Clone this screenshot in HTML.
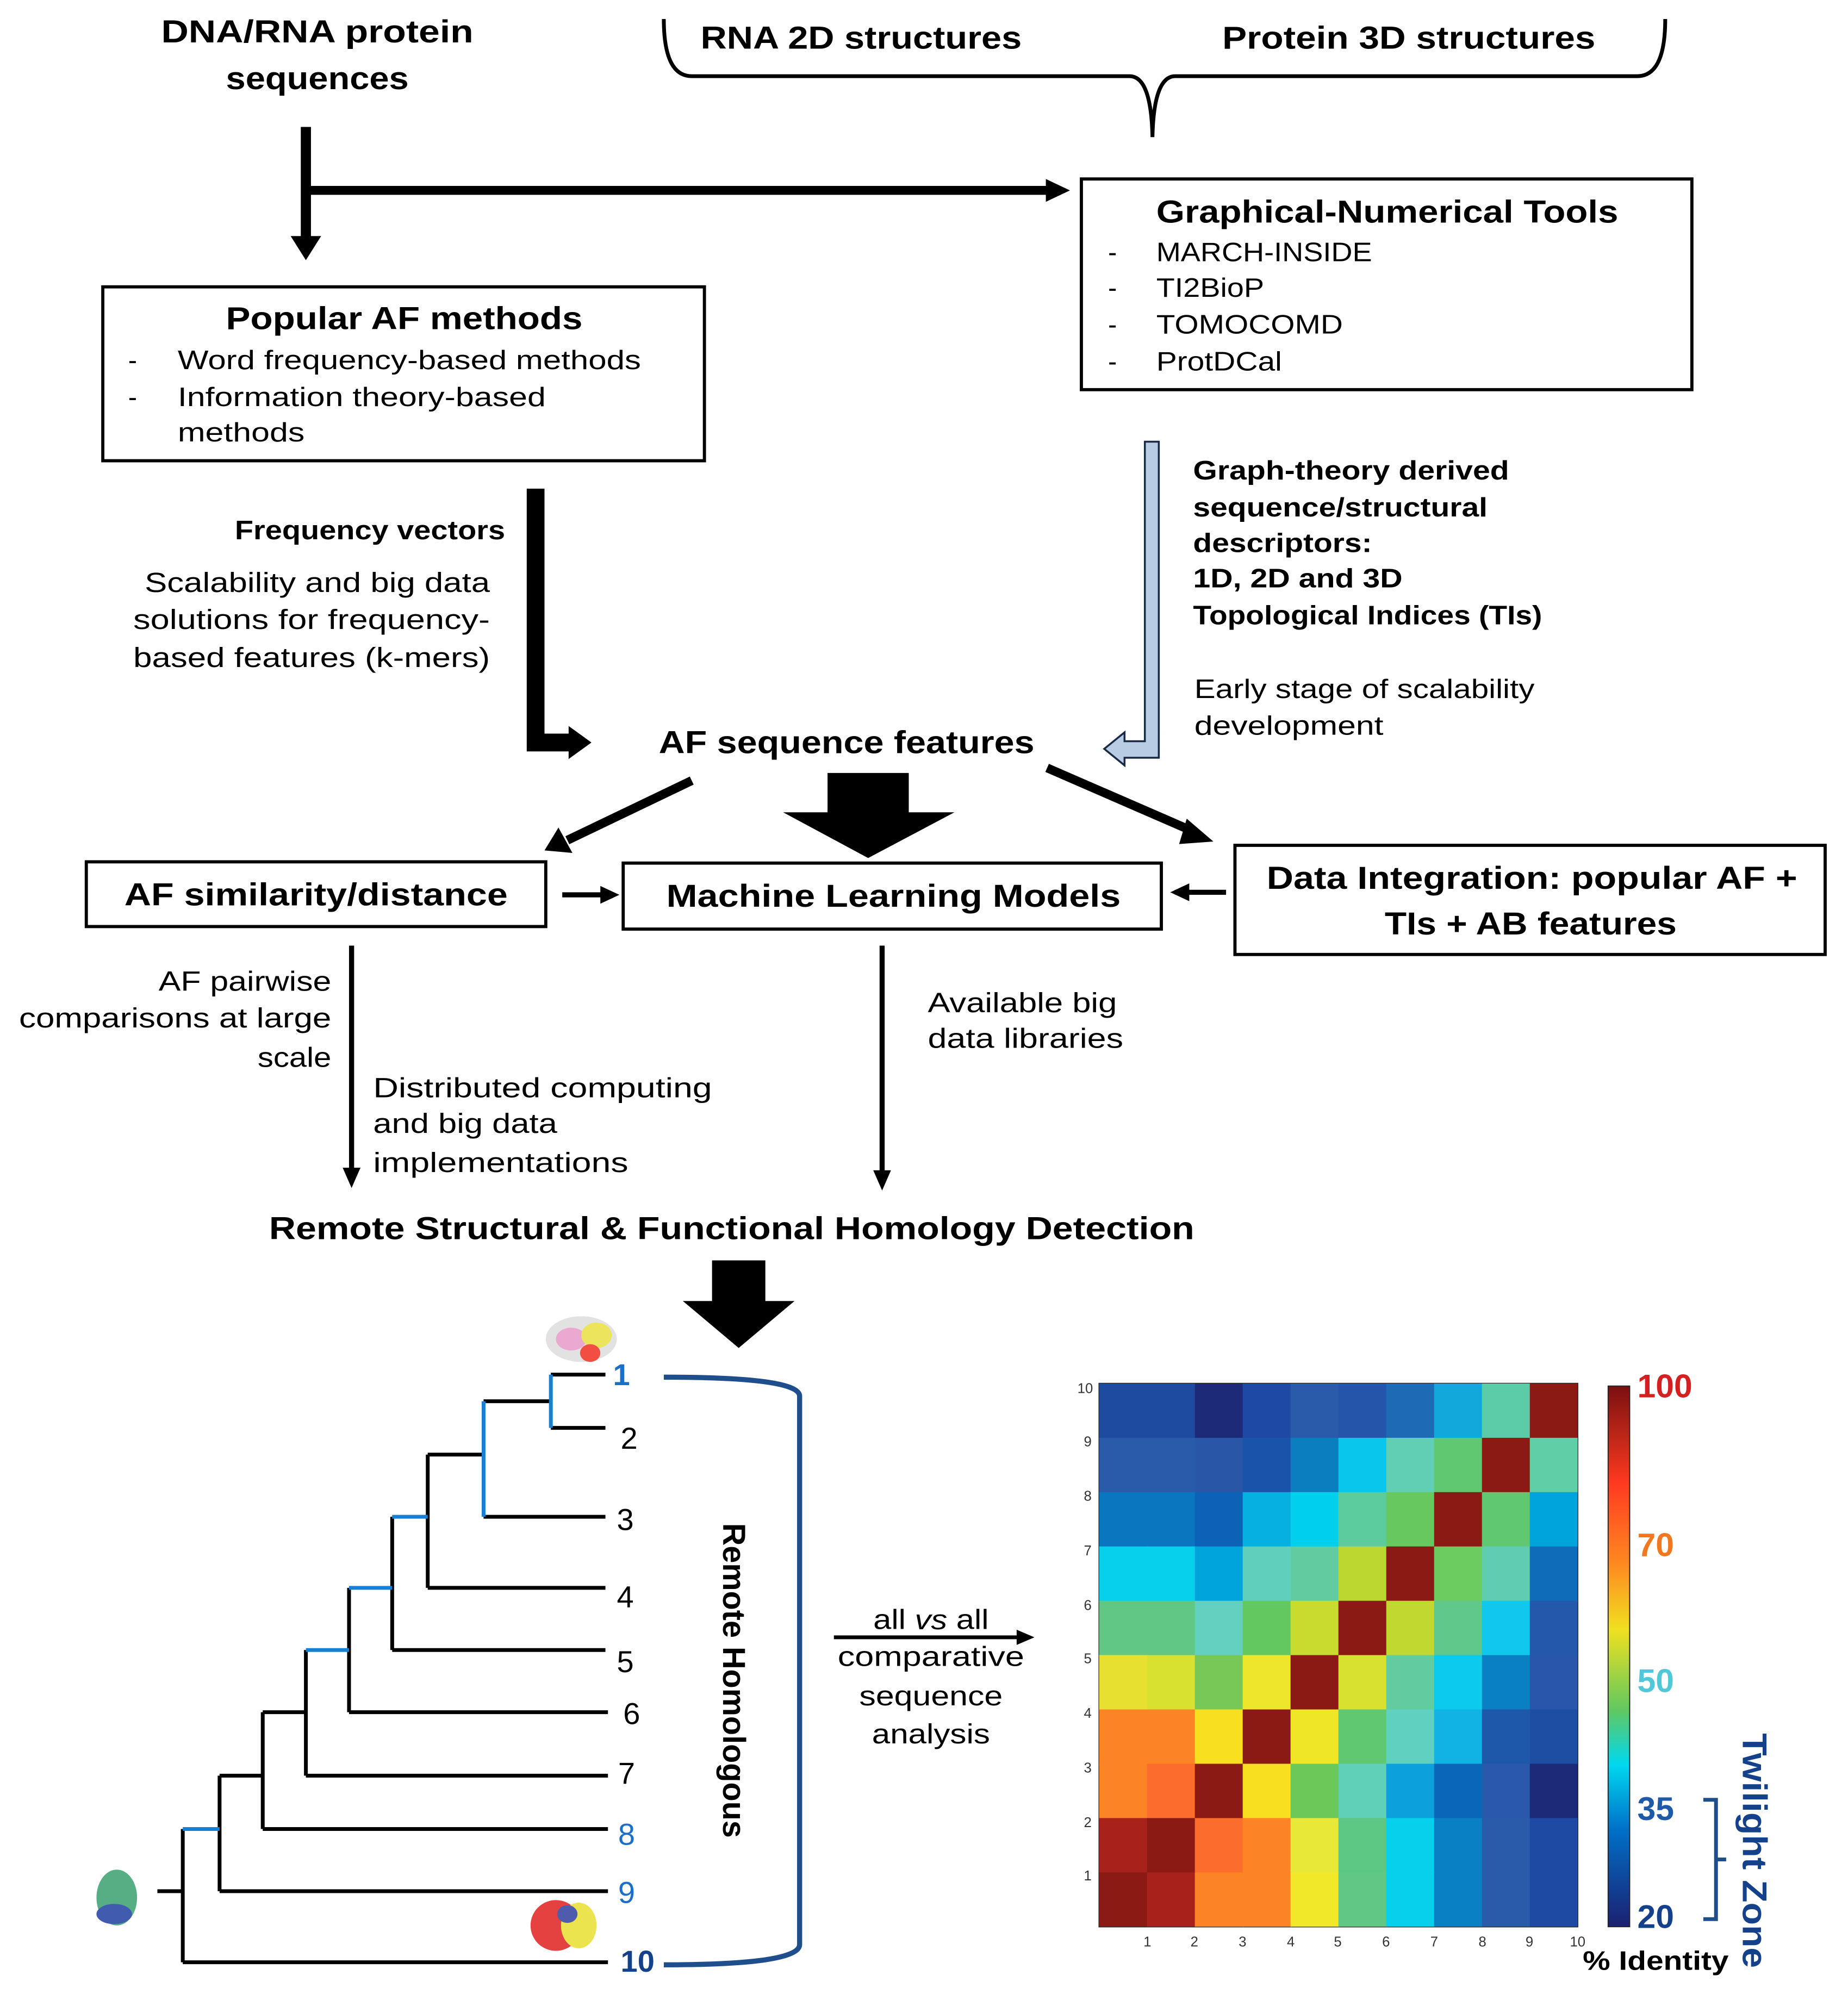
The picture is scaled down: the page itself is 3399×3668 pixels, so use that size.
<!DOCTYPE html>
<html><head><meta charset="utf-8"><style>
html,body{margin:0;padding:0;background:#fff}
svg{display:block}
text{font-family:"Liberation Sans",sans-serif;dominant-baseline:central}
.b{font-weight:bold}
</style></head><body>
<svg width="3399" height="3668" viewBox="0 0 1456 1571" preserveAspectRatio="none" xmlns="http://www.w3.org/2000/svg">
<defs>
<linearGradient id="cb" x1="0" y1="0" x2="0" y2="1">
<stop offset="0" stop-color="#7a1010"/><stop offset="0.18" stop-color="#ff3a20"/><stop offset="0.33" stop-color="#ff8a20"/><stop offset="0.45" stop-color="#f0e020"/><stop offset="0.6" stop-color="#60c860"/><stop offset="0.7" stop-color="#00d8f0"/><stop offset="0.82" stop-color="#0070c8"/><stop offset="1" stop-color="#1c2070"/>
</linearGradient>
</defs>

<g lengthAdjust="spacingAndGlyphs">
<text x="127" y="25" class="b" font-size="25" textLength="246" lengthAdjust="spacingAndGlyphs">DNA/RNA protein</text>
<text x="178" y="62" class="b" font-size="25" textLength="144" lengthAdjust="spacingAndGlyphs">sequences</text>
<text x="552" y="30" class="b" font-size="25" textLength="253" lengthAdjust="spacingAndGlyphs">RNA 2D structures</text>
<text x="963" y="30" class="b" font-size="25" textLength="294" lengthAdjust="spacingAndGlyphs">Protein 3D structures</text>
</g>
<path d="M523,15 Q523,60 545,60 L890,60 Q907,60 908,108 Q909,60 926,60 L1290,60 Q1312,60 1312,15" fill="none" stroke="#000" stroke-width="3"/>

<line x1="241" y1="100" x2="241" y2="188" stroke="#000" stroke-width="8"/>
<path d="M229,186 L253,186 L241,205 z"/>
<line x1="241" y1="150" x2="826" y2="150" stroke="#000" stroke-width="7"/>
<path d="M824,141 L843,150 L824,159 z"/>

<rect x="852" y="141" width="481" height="166" fill="#fff" stroke="#000" stroke-width="2.5"/>
<text x="911" y="167" class="b" font-size="25" textLength="364" lengthAdjust="spacingAndGlyphs">Graphical-Numerical Tools</text>
<g font-size="21">
<text x="873" y="199">-</text><text x="911" y="199" textLength="170" lengthAdjust="spacingAndGlyphs">MARCH-INSIDE</text>
<text x="873" y="227">-</text><text x="911" y="227" textLength="85" lengthAdjust="spacingAndGlyphs">TI2BioP</text>
<text x="873" y="256">-</text><text x="911" y="256" textLength="147" lengthAdjust="spacingAndGlyphs">TOMOCOMD</text>
<text x="873" y="285">-</text><text x="911" y="285" textLength="99" lengthAdjust="spacingAndGlyphs">ProtDCal</text>
</g>

<rect x="81" y="226" width="474" height="137" fill="#fff" stroke="#000" stroke-width="2.5"/>
<text x="178" y="251" class="b" font-size="25" textLength="281" lengthAdjust="spacingAndGlyphs">Popular AF methods</text>
<g font-size="21">
<text x="101" y="284">-</text><text x="140" y="284" textLength="365" lengthAdjust="spacingAndGlyphs">Word frequency-based methods</text>
<text x="101" y="313">-</text><text x="140" y="313" textLength="290" lengthAdjust="spacingAndGlyphs">Information theory-based</text>
<text x="140" y="341" textLength="100" lengthAdjust="spacingAndGlyphs">methods</text>
</g>

<path d="M422,385 L422,585 L450,585" fill="none" stroke="#000" stroke-width="14"/>
<path d="M448,572 L466,585 L448,598 z"/>
<text x="185" y="418" class="b" font-size="21" textLength="213" lengthAdjust="spacingAndGlyphs">Frequency vectors</text>
<g font-size="22">
<text x="114" y="459" textLength="272" lengthAdjust="spacingAndGlyphs">Scalability and big data</text>
<text x="105" y="488" textLength="281" lengthAdjust="spacingAndGlyphs">solutions for frequency-</text>
<text x="105" y="518" textLength="281" lengthAdjust="spacingAndGlyphs">based features (k-mers)</text>
</g>

<path d="M902,348 L913,348 L913,597 L886,597 L886,603 L870,590 L886,577 L886,584 L902,584 z" fill="#b8cce4" stroke="#1a2a44" stroke-width="1.5"/>
<g font-size="21">
<text x="940" y="371" class="b" textLength="249" lengthAdjust="spacingAndGlyphs">Graph-theory derived</text>
<text x="940" y="400" class="b" textLength="232" lengthAdjust="spacingAndGlyphs">sequence/structural</text>
<text x="940" y="428" class="b" textLength="141" lengthAdjust="spacingAndGlyphs">descriptors:</text>
<text x="940" y="456" class="b" textLength="165" lengthAdjust="spacingAndGlyphs">1D, 2D and 3D</text>
<text x="940" y="485" class="b" textLength="275" lengthAdjust="spacingAndGlyphs">Topological Indices (TIs)</text>
<text x="941" y="543" textLength="268" lengthAdjust="spacingAndGlyphs">Early stage of scalability</text>
<text x="941" y="572" textLength="149" lengthAdjust="spacingAndGlyphs">development</text>
</g>

<text x="519" y="585" class="b" font-size="25" textLength="296" lengthAdjust="spacingAndGlyphs">AF sequence features</text>

<line x1="545" y1="615" x2="447" y2="662" stroke="#000" stroke-width="7"/>
<path d="M440,652 L429,670 L451,672 z"/>
<line x1="825" y1="605" x2="940" y2="655" stroke="#000" stroke-width="7"/>
<path d="M935,645 L956,663 L929,665 z"/>
<path d="M652,609 L716,609 L716,640 L752,640 L684,676 L617,640 L652,640 z"/>

<rect x="68" y="679" width="362" height="51" fill="#fff" stroke="#000" stroke-width="2.5"/>
<text x="98" y="705" class="b" font-size="25" textLength="302" lengthAdjust="spacingAndGlyphs">AF similarity/distance</text>
<rect x="491" y="680" width="424" height="52" fill="#fff" stroke="#000" stroke-width="2.5"/>
<text x="525" y="706" class="b" font-size="25" textLength="358" lengthAdjust="spacingAndGlyphs">Machine Learning Models</text>
<rect x="973" y="666" width="465" height="86" fill="#fff" stroke="#000" stroke-width="2.5"/>
<text x="998" y="692" class="b" font-size="25" textLength="418" lengthAdjust="spacingAndGlyphs">Data Integration: popular AF +</text>
<text x="1091" y="728" class="b" font-size="25" textLength="230" lengthAdjust="spacingAndGlyphs">TIs + AB features</text>
<line x1="443" y1="705" x2="475" y2="705" stroke="#000" stroke-width="4"/>
<path d="M473,698 L488,705 L473,712 z"/>
<line x1="966" y1="703" x2="935" y2="703" stroke="#000" stroke-width="4"/>
<path d="M937,696 L922,703 L937,710 z"/>

<line x1="277" y1="745" x2="277" y2="922" stroke="#000" stroke-width="4"/>
<path d="M270,920 L284,920 L277,936 z"/>
<line x1="695" y1="745" x2="695" y2="924" stroke="#000" stroke-width="4"/>
<path d="M688,922 L702,922 L695,938 z"/>
<g font-size="22">
<text x="125" y="773" textLength="136" lengthAdjust="spacingAndGlyphs">AF pairwise</text>
<text x="15" y="802" textLength="246" lengthAdjust="spacingAndGlyphs">comparisons at large</text>
<text x="203" y="833" textLength="58" lengthAdjust="spacingAndGlyphs">scale</text>
<text x="294" y="857" textLength="267" lengthAdjust="spacingAndGlyphs">Distributed computing</text>
<text x="294" y="885" textLength="145" lengthAdjust="spacingAndGlyphs">and big data</text>
<text x="294" y="916" textLength="201" lengthAdjust="spacingAndGlyphs">implementations</text>
<text x="731" y="790" textLength="149" lengthAdjust="spacingAndGlyphs">Available big</text>
<text x="731" y="818" textLength="154" lengthAdjust="spacingAndGlyphs">data libraries</text>
</g>
<text x="212" y="968" class="b" font-size="25" textLength="729" lengthAdjust="spacingAndGlyphs">Remote Structural &amp; Functional Homology Detection</text>
<path d="M561,993 L603,993 L603,1025 L626,1025 L582,1062 L538,1025 L561,1025 z"/>

<g stroke-width="3" fill="none">
<g stroke="#000">
<path d="M434,1083 H477 M434,1125 H477 M381,1104 H434 M381,1195 H477 M337,1146 H381 M337,1146 V1251 M337,1251 H477 M309,1195 V1300 M309,1300 H477 M275,1251 V1349 M275,1349 H479 M241,1300 V1399 M241,1399 H479 M207,1349 H241 M207,1349 V1441 M207,1441 H479 M173,1399 H207 M173,1399 V1490 M173,1490 H479 M144,1441 V1546 M144,1546 H479 M124,1490 H144"/>
</g>
<g stroke="#1a7fd0">
<path d="M434,1083 V1125 M381,1104 V1195 M309,1195 H337 M275,1251 H309 M241,1300 H275 M144,1441 H173"/>
</g>
</g>
<g font-size="24">
<text x="483" y="1083" fill="#1a6fc8" class="b">1</text>
<text x="489" y="1133">2</text>
<text x="486" y="1197">3</text>
<text x="486" y="1258">4</text>
<text x="486" y="1309">5</text>
<text x="491" y="1350">6</text>
<text x="487" y="1397">7</text>
<text x="487" y="1445" fill="#1a6fc8">8</text>
<text x="487" y="1491" fill="#1a6fc8">9</text>
<text x="489" y="1545" fill="#14418a" class="b">10</text>
</g>
<path d="M523,1085 Q630,1085 630,1100 L630,1532 Q630,1548 523,1548" fill="none" stroke="#1f4e8c" stroke-width="4"/>
<text x="0" y="0" class="b" font-size="25" text-anchor="middle" textLength="248" lengthAdjust="spacingAndGlyphs" transform="translate(578,1324) rotate(90)">Remote Homologous</text>

<g opacity="0.85">
<ellipse cx="458" cy="1055" rx="28" ry="18" fill="#ddd"/>
<ellipse cx="450" cy="1055" rx="12" ry="9" fill="#e89ac8"/>
<ellipse cx="470" cy="1052" rx="12" ry="10" fill="#e8e040"/>
<ellipse cx="465" cy="1066" rx="8" ry="7" fill="#f03020"/>
<ellipse cx="92" cy="1495" rx="16" ry="22" fill="#3aa070"/>
<ellipse cx="90" cy="1508" rx="14" ry="8" fill="#2040a0"/>
<ellipse cx="438" cy="1517" rx="20" ry="20" fill="#e02020"/>
<ellipse cx="456" cy="1517" rx="14" ry="18" fill="#e8e030"/>
<ellipse cx="447" cy="1508" rx="8" ry="7" fill="#3040a0"/>
</g>

<g font-size="22">
<text x="688" y="1276" textLength="91" lengthAdjust="spacingAndGlyphs">all <tspan font-style="italic">vs</tspan> all</text>
<text x="660" y="1305" textLength="147" lengthAdjust="spacingAndGlyphs">comparative</text>
<text x="677" y="1336" textLength="113" lengthAdjust="spacingAndGlyphs">sequence</text>
<text x="687" y="1366" textLength="93" lengthAdjust="spacingAndGlyphs">analysis</text>
</g>
<line x1="657" y1="1290" x2="803" y2="1290" stroke="#000" stroke-width="3"/>
<path d="M801,1284 L815,1290 L801,1296 z"/>

<rect x="866" y="1090" width="377" height="428" fill="none" stroke="#222" stroke-width="1"/>
<rect x="1267" y="1092" width="17" height="426" fill="url(#cb)" stroke="#222" stroke-width="0.8"/>
<g font-size="26" class="b">
<text x="1290" y="1092" fill="#d42020">100</text>
<text x="1290" y="1217" fill="#f07820">70</text>
<text x="1290" y="1324" fill="#50c8d8">50</text>
<text x="1290" y="1425" fill="#1f5aa8">35</text>
<text x="1290" y="1510" fill="#14418a">20</text>
</g>
<path d="M1342,1418 L1352,1418 L1352,1512 L1342,1512 M1352,1465 L1360,1465" fill="none" stroke="#1f4e8c" stroke-width="3"/>
<text x="0" y="0" class="b" font-size="27" fill="#14418a" text-anchor="middle" textLength="185" lengthAdjust="spacingAndGlyphs" transform="translate(1382,1458) rotate(90)">Twilight Zone</text>
<text x="1247" y="1545" class="b" font-size="21" textLength="115" lengthAdjust="spacingAndGlyphs">% Identity</text>
<g font-size="11" fill="#333">
<text x="855" y="1094" text-anchor="middle">10</text>
<text x="857" y="1136" text-anchor="middle">9</text>
<text x="857" y="1179" text-anchor="middle">8</text>
<text x="857" y="1222" text-anchor="middle">7</text>
<text x="857" y="1265" text-anchor="middle">6</text>
<text x="857" y="1307" text-anchor="middle">5</text>
<text x="857" y="1350" text-anchor="middle">4</text>
<text x="857" y="1393" text-anchor="middle">3</text>
<text x="857" y="1436" text-anchor="middle">2</text>
<text x="857" y="1478" text-anchor="middle">1</text>
<text x="904" y="1530" text-anchor="middle">1</text>
<text x="941" y="1530" text-anchor="middle">2</text>
<text x="979" y="1530" text-anchor="middle">3</text>
<text x="1017" y="1530" text-anchor="middle">4</text>
<text x="1054" y="1530" text-anchor="middle">5</text>
<text x="1092" y="1530" text-anchor="middle">6</text>
<text x="1130" y="1530" text-anchor="middle">7</text>
<text x="1168" y="1530" text-anchor="middle">8</text>
<text x="1205" y="1530" text-anchor="middle">9</text>
<text x="1243" y="1530" text-anchor="middle">10</text>
</g>
<g transform="translate(866,1090)">
<rect x="0" y="0" width="38.7" height="43.8" fill="#1e4aa0"/><rect x="37.7" y="0" width="38.7" height="43.8" fill="#1e4aa0"/><rect x="75.4" y="0" width="38.7" height="43.8" fill="#1c2a78"/><rect x="113.1" y="0" width="38.7" height="43.8" fill="#1e4aa6"/><rect x="150.8" y="0" width="38.7" height="43.8" fill="#2a5aaa"/><rect x="188.5" y="0" width="38.7" height="43.8" fill="#2356aa"/><rect x="226.2" y="0" width="38.7" height="43.8" fill="#1f6ab4"/><rect x="263.9" y="0" width="38.7" height="43.8" fill="#12a8dc"/><rect x="301.6" y="0" width="38.7" height="43.8" fill="#5ccca8"/><rect x="339.3" y="0" width="37.7" height="43.8" fill="#8c1a14"/>
<rect x="0" y="42.8" width="38.7" height="43.8" fill="#2a5aaa"/><rect x="37.7" y="42.8" width="38.7" height="43.8" fill="#2a5aaa"/><rect x="75.4" y="42.8" width="38.7" height="43.8" fill="#2a56a8"/><rect x="113.1" y="42.8" width="38.7" height="43.8" fill="#1a54aa"/><rect x="150.8" y="42.8" width="38.7" height="43.8" fill="#0b7ec0"/><rect x="188.5" y="42.8" width="38.7" height="43.8" fill="#08c6ec"/><rect x="226.2" y="42.8" width="38.7" height="43.8" fill="#60cfb4"/><rect x="263.9" y="42.8" width="38.7" height="43.8" fill="#60c870"/><rect x="301.6" y="42.8" width="38.7" height="43.8" fill="#8c1a14"/><rect x="339.3" y="42.8" width="37.7" height="43.8" fill="#60cfa8"/>
<rect x="0" y="85.6" width="38.7" height="43.8" fill="#0a76c0"/><rect x="37.7" y="85.6" width="38.7" height="43.8" fill="#0a76c0"/><rect x="75.4" y="85.6" width="38.7" height="43.8" fill="#0b62b6"/><rect x="113.1" y="85.6" width="38.7" height="43.8" fill="#06b0e0"/><rect x="150.8" y="85.6" width="38.7" height="43.8" fill="#00d0ec"/><rect x="188.5" y="85.6" width="38.7" height="43.8" fill="#5ccc9c"/><rect x="226.2" y="85.6" width="38.7" height="43.8" fill="#68c860"/><rect x="263.9" y="85.6" width="38.7" height="43.8" fill="#8c1a14"/><rect x="301.6" y="85.6" width="38.7" height="43.8" fill="#60c870"/><rect x="339.3" y="85.6" width="37.7" height="43.8" fill="#00a4dc"/>
<rect x="0" y="128.4" width="38.7" height="43.8" fill="#06d0ec"/><rect x="37.7" y="128.4" width="38.7" height="43.8" fill="#06d0ec"/><rect x="75.4" y="128.4" width="38.7" height="43.8" fill="#00a4dc"/><rect x="113.1" y="128.4" width="38.7" height="43.8" fill="#60d0bc"/><rect x="150.8" y="128.4" width="38.7" height="43.8" fill="#60cca0"/><rect x="188.5" y="128.4" width="38.7" height="43.8" fill="#bcd830"/><rect x="226.2" y="128.4" width="38.7" height="43.8" fill="#8c1a14"/><rect x="263.9" y="128.4" width="38.7" height="43.8" fill="#6ccc60"/><rect x="301.6" y="128.4" width="38.7" height="43.8" fill="#60ccb0"/><rect x="339.3" y="128.4" width="37.7" height="43.8" fill="#0e6cb8"/>
<rect x="0" y="171.2" width="38.7" height="43.8" fill="#60c884"/><rect x="37.7" y="171.2" width="38.7" height="43.8" fill="#60c884"/><rect x="75.4" y="171.2" width="38.7" height="43.8" fill="#64d0c0"/><rect x="113.1" y="171.2" width="38.7" height="43.8" fill="#64c860"/><rect x="150.8" y="171.2" width="38.7" height="43.8" fill="#c8dc30"/><rect x="188.5" y="171.2" width="38.7" height="43.8" fill="#8c1a14"/><rect x="226.2" y="171.2" width="38.7" height="43.8" fill="#c0d830"/><rect x="263.9" y="171.2" width="38.7" height="43.8" fill="#60c888"/><rect x="301.6" y="171.2" width="38.7" height="43.8" fill="#10c8ec"/><rect x="339.3" y="171.2" width="37.7" height="43.8" fill="#2358aa"/>
<rect x="0" y="214" width="38.7" height="43.8" fill="#e8e030"/><rect x="37.7" y="214" width="38.7" height="43.8" fill="#d8e030"/><rect x="75.4" y="214" width="38.7" height="43.8" fill="#78c858"/><rect x="113.1" y="214" width="38.7" height="43.8" fill="#eee62a"/><rect x="150.8" y="214" width="38.7" height="43.8" fill="#8c1a14"/><rect x="188.5" y="214" width="38.7" height="43.8" fill="#d8e030"/><rect x="226.2" y="214" width="38.7" height="43.8" fill="#60cca0"/><rect x="263.9" y="214" width="38.7" height="43.8" fill="#0ccaee"/><rect x="301.6" y="214" width="38.7" height="43.8" fill="#0a80c4"/><rect x="339.3" y="214" width="37.7" height="43.8" fill="#2a56aa"/>
<rect x="0" y="256.8" width="38.7" height="43.8" fill="#fc8424"/><rect x="37.7" y="256.8" width="38.7" height="43.8" fill="#fc8424"/><rect x="75.4" y="256.8" width="38.7" height="43.8" fill="#f8e020"/><rect x="113.1" y="256.8" width="38.7" height="43.8" fill="#8c1a14"/><rect x="150.8" y="256.8" width="38.7" height="43.8" fill="#f0e628"/><rect x="188.5" y="256.8" width="38.7" height="43.8" fill="#60c870"/><rect x="226.2" y="256.8" width="38.7" height="43.8" fill="#60d0c0"/><rect x="263.9" y="256.8" width="38.7" height="43.8" fill="#10b4e4"/><rect x="301.6" y="256.8" width="38.7" height="43.8" fill="#1e58aa"/><rect x="339.3" y="256.8" width="37.7" height="43.8" fill="#1e4ea4"/>
<rect x="0" y="299.6" width="38.7" height="43.8" fill="#fc8424"/><rect x="37.7" y="299.6" width="38.7" height="43.8" fill="#fc6c2c"/><rect x="75.4" y="299.6" width="38.7" height="43.8" fill="#8c1a14"/><rect x="113.1" y="299.6" width="38.7" height="43.8" fill="#f8e020"/><rect x="150.8" y="299.6" width="38.7" height="43.8" fill="#6cc858"/><rect x="188.5" y="299.6" width="38.7" height="43.8" fill="#60d0b8"/><rect x="226.2" y="299.6" width="38.7" height="43.8" fill="#0ca0dc"/><rect x="263.9" y="299.6" width="38.7" height="43.8" fill="#0a66b8"/><rect x="301.6" y="299.6" width="38.7" height="43.8" fill="#2a58aa"/><rect x="339.3" y="299.6" width="37.7" height="43.8" fill="#1c2a78"/>
<rect x="0" y="342.4" width="38.7" height="43.8" fill="#a8221c"/><rect x="37.7" y="342.4" width="38.7" height="43.8" fill="#8c1a14"/><rect x="75.4" y="342.4" width="38.7" height="43.8" fill="#fc6c2c"/><rect x="113.1" y="342.4" width="38.7" height="43.8" fill="#fc8424"/><rect x="150.8" y="342.4" width="38.7" height="43.8" fill="#e8e838"/><rect x="188.5" y="342.4" width="38.7" height="43.8" fill="#5cc884"/><rect x="226.2" y="342.4" width="38.7" height="43.8" fill="#06d0ec"/><rect x="263.9" y="342.4" width="38.7" height="43.8" fill="#0a80c4"/><rect x="301.6" y="342.4" width="38.7" height="43.8" fill="#2a5aaa"/><rect x="339.3" y="342.4" width="37.7" height="43.8" fill="#1e4aa4"/>
<rect x="0" y="385.2" width="38.7" height="42.8" fill="#8c1a14"/><rect x="37.7" y="385.2" width="38.7" height="42.8" fill="#a8221c"/><rect x="75.4" y="385.2" width="38.7" height="42.8" fill="#fc8424"/><rect x="113.1" y="385.2" width="38.7" height="42.8" fill="#fc8424"/><rect x="150.8" y="385.2" width="38.7" height="42.8" fill="#f0e828"/><rect x="188.5" y="385.2" width="38.7" height="42.8" fill="#60c884"/><rect x="226.2" y="385.2" width="38.7" height="42.8" fill="#06d0ec"/><rect x="263.9" y="385.2" width="38.7" height="42.8" fill="#0a80c4"/><rect x="301.6" y="385.2" width="38.7" height="42.8" fill="#2a5aaa"/><rect x="339.3" y="385.2" width="37.7" height="42.8" fill="#1e4aa4"/>
</g>
</svg>
</body></html>
